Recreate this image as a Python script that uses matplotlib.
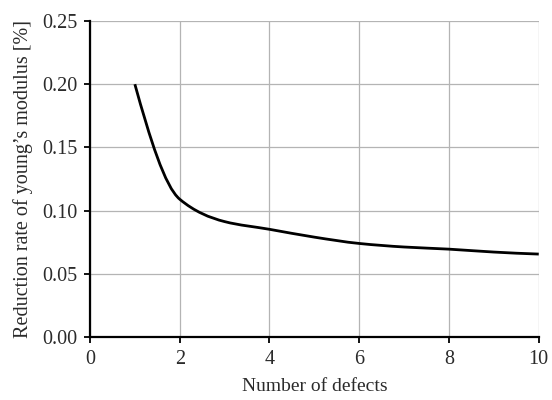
import numpy as np
import matplotlib
matplotlib.use('Agg')
import matplotlib.pyplot as plt
from matplotlib.path import Path
from matplotlib.patches import PathPatch

# values
defects = [1, 2, 3, 4, 5, 6, 7, 8, 9, 10]
reduction = [0.200, 0.109, 0.0913, 0.0852, 0.079, 0.074, 0.0712, 0.0695, 0.0672, 0.0656]

plt.rcParams['font.family'] = ['Liberation Serif', 'DejaVu Serif']
text_col = '#2b2b2b'

fig = plt.figure(figsize=(5.52, 4.0), dpi=100)
ax = fig.add_axes([0.163, 0.1575, 0.813, 0.79])

ax.set_xlim(0, 10)
ax.set_ylim(0, 0.25)
ax.set_xticks(np.arange(0, 11, 2))
ax.set_yticks(np.arange(0, 0.26, 0.05))
ax.set_yticklabels(['{:.2f}'.format(v) for v in np.arange(0, 0.26, 0.05)])
ax.grid(True, color='#b4b4b4', lw=0.9)
ax.set_axisbelow(True)

for s in ['top', 'right']:
    ax.spines[s].set_visible(False)
for s in ['left', 'bottom']:
    ax.spines[s].set_linewidth(1.6)
    ax.spines[s].set_color('black')
ax.tick_params(direction='out', length=4, width=1.3, labelsize=14.5, pad=5,
               labelcolor=text_col)

# smoothed line through the points: monotone cubic tangents, drawn as bezier segments
x = np.array(defects, float)
y = np.array(reduction, float)
h = np.diff(x)
d = np.diff(y) / h
m = np.zeros(len(x))
for i in range(1, len(x) - 1):
    if d[i - 1] * d[i] > 0:
        m[i] = 2 / (1 / d[i - 1] + 1 / d[i])
m[0] = ((2 * h[0] + h[1]) * d[0] - h[0] * d[1]) / (h[0] + h[1])
m[-1] = ((2 * h[-1] + h[-2]) * d[-1] - h[-1] * d[-2]) / (h[-1] + h[-2])
verts = [(x[0], y[0])]
codes = [Path.MOVETO]
for i in range(len(x) - 1):
    verts += [(x[i] + h[i] / 3, y[i] + m[i] * h[i] / 3),
              (x[i + 1] - h[i] / 3, y[i + 1] - m[i + 1] * h[i] / 3),
              (x[i + 1], y[i + 1])]
    codes += [Path.CURVE4] * 3
ax.add_patch(PathPatch(Path(verts, codes), fill=False, lw=2, color='black',
                       capstyle='butt', zorder=3))

ax.set_xlabel('Number of defects', fontsize=14, labelpad=7, color=text_col)
ax.set_ylabel('Reduction rate of young\u2019s modulus [%]', fontsize=14.5, labelpad=7,
              color=text_col)

fig.savefig('out.png', dpi=100)
